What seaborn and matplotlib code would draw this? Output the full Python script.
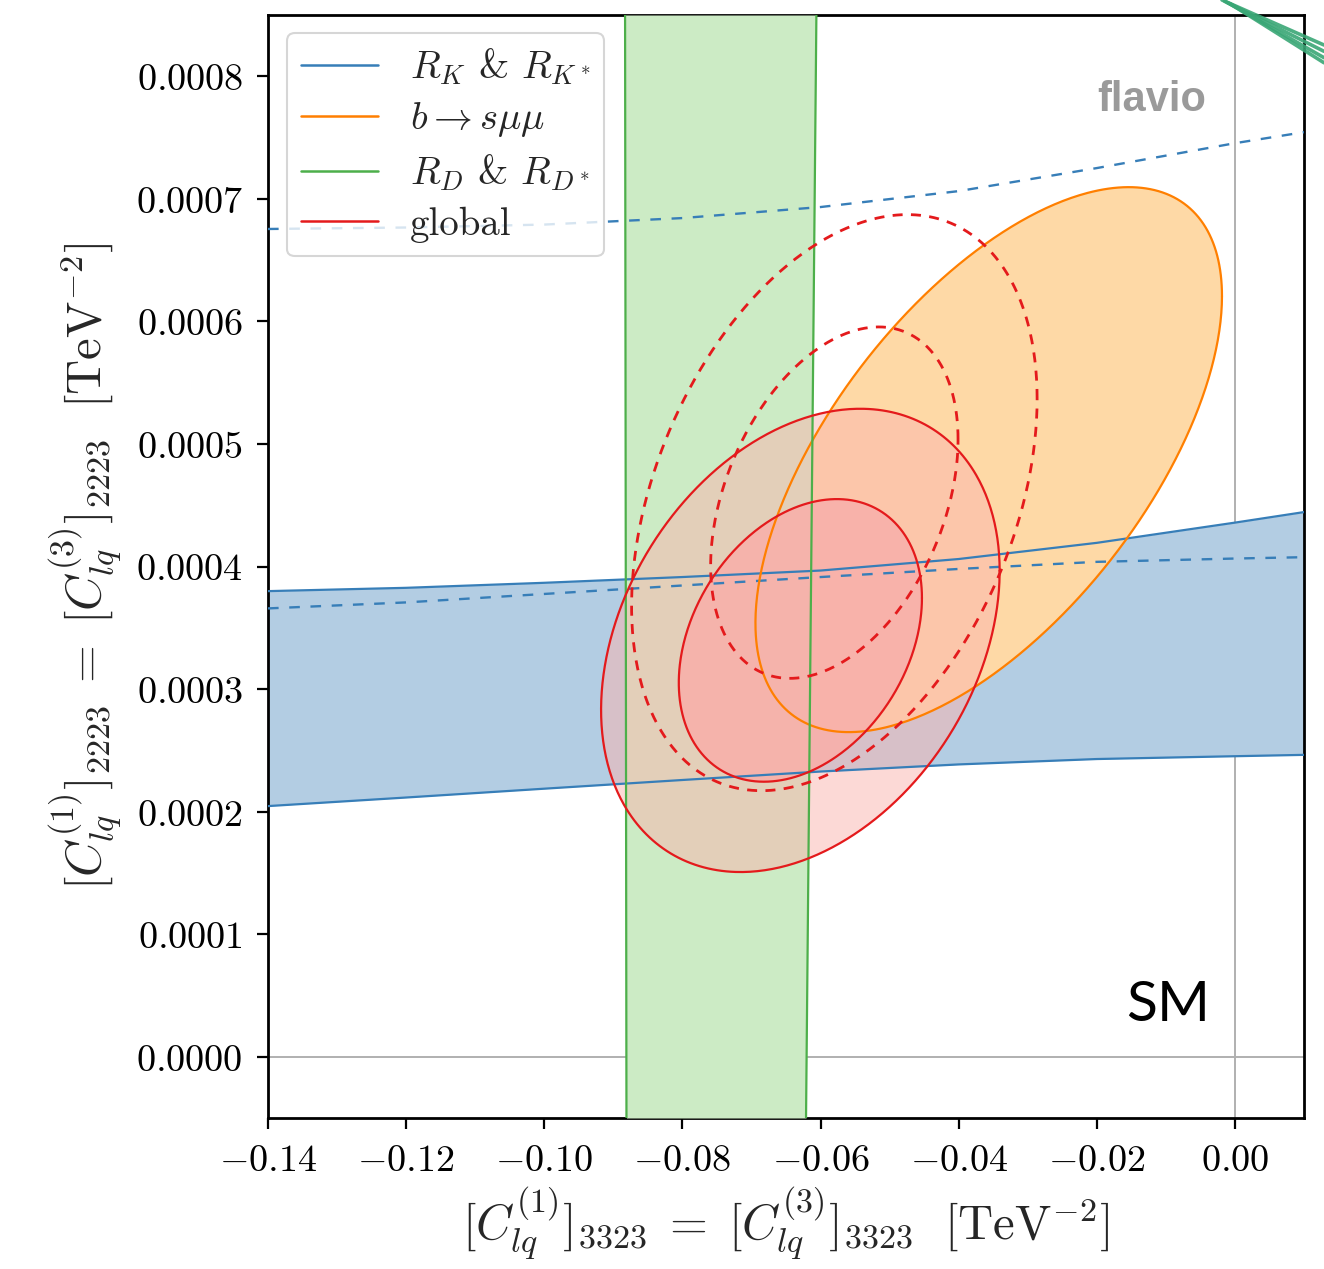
import numpy as np
import matplotlib
matplotlib.use("Agg")
import matplotlib.pyplot as plt
from matplotlib.lines import Line2D
from matplotlib.ticker import FuncFormatter
import seaborn as sns

# ---------------- data ----------------
# R_K & R_K* band (x in TeV^-2, y in TeV^-2)
rk_x = [-0.14, -0.12, -0.10, -0.08, -0.06, -0.04, -0.02, 0.00, 0.01]
rk_upper = [3.799e-4, 3.826e-4, 3.867e-4, 3.914e-4, 3.967e-4, 4.061e-4, 4.193e-4, 4.358e-4, 4.444e-4]
rk_lower = [2.045e-4, 2.115e-4, 2.187e-4, 2.258e-4, 2.327e-4, 2.385e-4, 2.429e-4, 2.452e-4, 2.463e-4]
rk_dash_low = [3.658e-4, 3.707e-4, 3.776e-4, 3.845e-4, 3.914e-4, 3.980e-4, 4.038e-4, 4.065e-4, 4.076e-4]
rk_dash_high = [6.754e-4, 6.766e-4, 6.790e-4, 6.843e-4, 6.933e-4, 7.063e-4, 7.251e-4, 7.454e-4, 7.544e-4]

# R_D & R_D* vertical band: edges at bottom / top of the plot
rd_y = [-0.00005, 0.00085]
rd_left = [-0.0881, -0.0883]
rd_right = [-0.0621, -0.0606]

# Gaussian-approximated fit contours: centre, sigma, correlation
bsmm_center = (-0.03565, 4.872e-4)
bsmm_sigma = (0.02227, 1.466e-4)
bsmm_rho = 0.60
bsmm_levels = [2.30]

glob_center = (-0.06292, 3.397e-4)
glob_sigma = (0.011607, 7.603e-5)
glob_rho = 0.30
glob_levels = [2.30, 6.18]

glob2_center = (-0.0580, 4.521e-4)
glob2_sigma = (0.01181, 9.454e-5)
glob2_rho = 0.36
glob2_levels = [2.30, 6.18]

xticks = [-0.14, -0.12, -0.10, -0.08, -0.06, -0.04, -0.02, 0.00]
yticks = [0.0, 0.0001, 0.0002, 0.0003, 0.0004, 0.0005, 0.0006, 0.0007, 0.0008]
legend_labels = [r'$R_K$ & $R_{K^*}$', r'$b\to s\mu\mu$',
                 r'$R_D$ & $R_{D^*}$', 'global']

# ---------------- colours ----------------
line_c = {'blue': '#377eb8', 'orange': '#ff7f00', 'green': '#4daf4a', 'red': '#e41a1c'}
fill_c = {'blue': '#b3cde3', 'orange': '#fed9a6', 'green': '#ccebc5', 'red': '#fbb4ae'}

# ---------------- style ----------------
sns.set_theme(style='ticks')
plt.rcParams['font.family'] = ['DejaVu Sans']
plt.rcParams['mathtext.fontset'] = 'cm'
plt.rcParams['axes.unicode_minus'] = True

fig = plt.figure(figsize=(13.24, 12.69), dpi=100)
ax = fig.add_axes([268/1324, 1 - 1118/1269, (1304-268)/1324, (1118-15)/1269])


def ellipse(center, sigma, rho, level):
    t = np.linspace(0, 2*np.pi, 500)
    r = np.sqrt(level)
    d = np.arccos(rho)
    return center[0] + sigma[0]*r*np.cos(t), center[1] + sigma[1]*r*np.cos(t - d)


def draw_line(x, y, color, ls='-', lw=1.6, z=5):
    sns.lineplot(x=np.asarray(x), y=np.asarray(y), ax=ax, color=color, sort=False,
                 estimator=None, linewidth=lw, linestyle=ls, zorder=z, legend=False)


# R_K band
ax.fill_between(rk_x, rk_lower, rk_upper, color=fill_c['blue'], lw=0, zorder=1)
draw_line(rk_x, rk_upper, line_c['blue'])
draw_line(rk_x, rk_lower, line_c['blue'])
draw_line(rk_x, rk_dash_low, line_c['blue'], ls=(0, (4.5, 4.5)), lw=1.7)
draw_line(rk_x, rk_dash_high, line_c['blue'], ls=(0, (4.5, 4.5)), lw=1.7)

# b -> s mu mu
for lev in bsmm_levels:
    ex, ey = ellipse(bsmm_center, bsmm_sigma, bsmm_rho, lev)
    ax.fill(ex, ey, color=fill_c['orange'], lw=0, zorder=2)
    draw_line(ex, ey, line_c['orange'])

# R_D band
ax.fill_betweenx(rd_y, rd_left, rd_right, color=fill_c['green'], lw=0, zorder=3)
draw_line(rd_left, rd_y, line_c['green'])
draw_line(rd_right, rd_y, line_c['green'])

# global (solid, filled)
ex2, ey2 = ellipse(glob_center, glob_sigma, glob_rho, glob_levels[1])
ax.fill(ex2, ey2, color=fill_c['red'], alpha=0.5, lw=0, zorder=4)
ex1, ey1 = ellipse(glob_center, glob_sigma, glob_rho, glob_levels[0])
ax.fill(ex1, ey1, color='#f8b0aa', alpha=0.9, lw=0, zorder=4)
draw_line(ex1, ey1, line_c['red'])
draw_line(ex2, ey2, line_c['red'])

# global (dashed)
for lev in glob2_levels:
    ex, ey = ellipse(glob2_center, glob2_sigma, glob2_rho, lev)
    draw_line(ex, ey, line_c['red'], ls=(0, (3.6, 3.0)), lw=2.0, z=6)

# SM reference lines
ax.axhline(0, color='#b0b0b0', lw=1.4, zorder=0.5)
ax.axvline(0, color='#b0b0b0', lw=1.4, zorder=0.5)

ax.set_xlim(-0.14, 0.01)
ax.set_ylim(-0.00005, 0.00085)
ax.set_xticks(xticks)
ax.set_yticks(yticks)


def fmt_x(v, pos):
    if abs(v) < 1e-12:
        v = 0.0
    return r'$%.2f$' % v


def fmt_y(v, pos):
    if abs(v) < 1e-12:
        v = 0.0
    return r'$%.4f$' % v


ax.xaxis.set_major_formatter(FuncFormatter(fmt_x))
ax.yaxis.set_major_formatter(FuncFormatter(fmt_y))
ax.tick_params(axis='both', which='major', labelsize=27.5, length=8, width=1.6,
               direction='out', color='black', labelcolor='black')
ax.tick_params(axis='x', pad=10)
ax.tick_params(axis='y', pad=10)
for s in ax.spines.values():
    s.set_linewidth(2.0)
    s.set_color('black')
    s.set_visible(True)

ax.set_xlabel(r'$[C_{lq}^{(1)}]_{3323}\;=\;[C_{lq}^{(3)}]_{3323}\ \ [\mathrm{TeV}^{-2}]$',
              fontsize=35, labelpad=4)
ax.set_ylabel(r'$[C_{lq}^{(1)}]_{2223}\;=\;[C_{lq}^{(3)}]_{2223}\ \ [\mathrm{TeV}^{-2}]$',
              fontsize=35, labelpad=8)

handles = [Line2D([], [], color=line_c[k], lw=1.8) for k in ['blue', 'orange', 'green', 'red']]
leg = ax.legend(handles, legend_labels, loc='upper left',
                bbox_to_anchor=(19/1036, 1 - 18/1103), borderaxespad=0,
                prop={'family': 'cmr10', 'size': 28}, handlelength=2.0, handletextpad=0.8,
                labelspacing=0.34, frameon=True, framealpha=0.8,
                edgecolor='#cccccc', fancybox=True, borderpad=0.35)
leg.get_frame().set_linewidth(1.5)
leg.set_zorder(10)

ax.text(0.853, 0.923, 'flavio', transform=ax.transAxes, ha='center', va='center',
        fontsize=30, fontweight='bold', color='#9a9a9a', family='Liberation Sans',
        zorder=11)
ax.text(0.869, 0.102, 'SM', transform=ax.transAxes, ha='center', va='center',
        fontsize=41, color='black', family='Lato', zorder=11)

# hand-drawn green annotation stroke at the top-right corner
for dy, dx in ((0.0, 0.0), (0.005, 0.002), (0.010, 0.004), (0.014, 0.006)):
    fig.add_artist(Line2D([1222/1324 + dx, 1.0], [1.0 - dy * 0.2, 1 - 45/1269 - dy],
                          transform=fig.transFigure, color='#3aa776', lw=2.6,
                          alpha=0.9, solid_capstyle='round'))

fig.savefig('out.png', dpi=100, facecolor='white')
